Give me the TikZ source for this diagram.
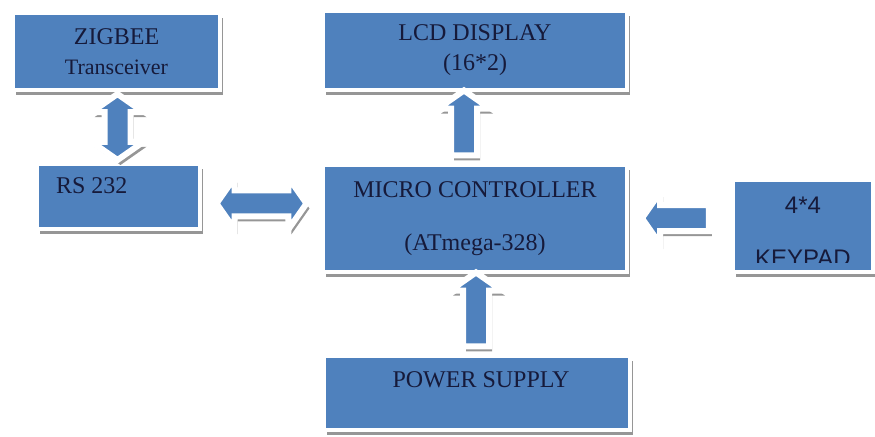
\documentclass[tikz,border=0pt]{standalone}
\usepackage{fontspec}
\setmainfont{Liberation Serif}
\newfontfamily\keyfont{Liberation Sans}
\usetikzlibrary{shapes.arrows,shadows,calc}
\definecolor{boxblue}{RGB}{79,129,189}
\definecolor{textnavy}{RGB}{22,26,58}
\definecolor{shadegray}{RGB}{150,150,150}

\begin{document}
\begin{tikzpicture}[x=0.5pt,y=-0.5pt,
    shade/.style={drop shadow={shadow xshift=1.5pt, shadow yshift=-2.5pt, fill=shadegray, opacity=1}},
    blk/.style={shade, fill=boxblue, draw=white, line width=2pt, inner sep=0pt, text=textnavy,
        font=\fontsize{12}{15}\selectfont, align=center},
    arr/.style={shade, single arrow, fill=boxblue, draw=white, line width=3pt, inner sep=5pt,
        single arrow head extend=6.5pt, single arrow tip angle=110},
    darr/.style={shade, double arrow, fill=boxblue, draw=white, line width=3pt, inner sep=5pt,
        double arrow head extend=6.5pt, double arrow tip angle=110}]
    \useasboundingbox (0,0) rectangle (875,437);
    \node[blk, minimum width=103.5pt, minimum height=38.5pt] (zb) at (116.5,51.5) {ZIGBEE\\{\fontsize{11}{15}\selectfont Transceiver}};
    \node[blk, minimum width=81.5pt, minimum height=32.5pt,
        label={[text=textnavy, font=\fontsize{12}{15}\selectfont, anchor=west, xshift=7pt, yshift=5.5pt]west:RS 232}] (rs) at (118.5,196.5) {};
    \node[blk, minimum width=152pt, minimum height=39.5pt] (lcd) at (475,50.5) {LCD DISPLAY\\(16*2)};
    \node[blk, minimum width=152pt, minimum height=53.5pt] (mc) at (475,218.5) {MICRO CONTROLLER\\[11.5pt](ATmega-328)};
    \node[blk, minimum width=70pt, minimum height=46pt, font=\keyfont\fontsize{12}{15}\selectfont,
        path picture={
            \clip (path picture bounding box.north west) rectangle ($(path picture bounding box.south east)+(0,4.5pt)$);
            \node[text=textnavy] (kptop) at ($(path picture bounding box.center)+(0,10.5pt)$) {4*4};
            \node[text=textnavy] (kpbot) at ($(path picture bounding box.center)+(0,-16pt)$) {KEYPAD};
        }] (kp) at (803,226) {};
    \node[blk, minimum width=153pt, minimum height=37pt,
        label={[text=textnavy, font=\fontsize{12}{15}\selectfont, xshift=2pt, yshift=6.5pt]center:POWER SUPPLY}] (ps) at (477,393) {};

    \node[darr, shape border rotate=90, minimum height=33pt] (zbrs) at ($(zb.south)!0.5!(rs.north)$) {};
    \node[darr, minimum height=45pt] (rsmc) at ($(rs.east)!0.5!(mc.west)+(0,-4)$) {};
    \node[arr, shape border rotate=90, minimum height=32.5pt] (mclcd) at ($(mc.north)!0.5!(lcd.south)+(-11,0)$) {};
    \node[arr, shape border rotate=90, minimum height=37pt] (psmc) at ($(mc.south)!0.5!(ps.north)$) {};
    \node[arr, shape border rotate=180, minimum height=33.5pt] (kpmc) at ($(mc.east)!0.5!(kp.west)+(0,-4)$) {};
\end{tikzpicture}
\end{document}
